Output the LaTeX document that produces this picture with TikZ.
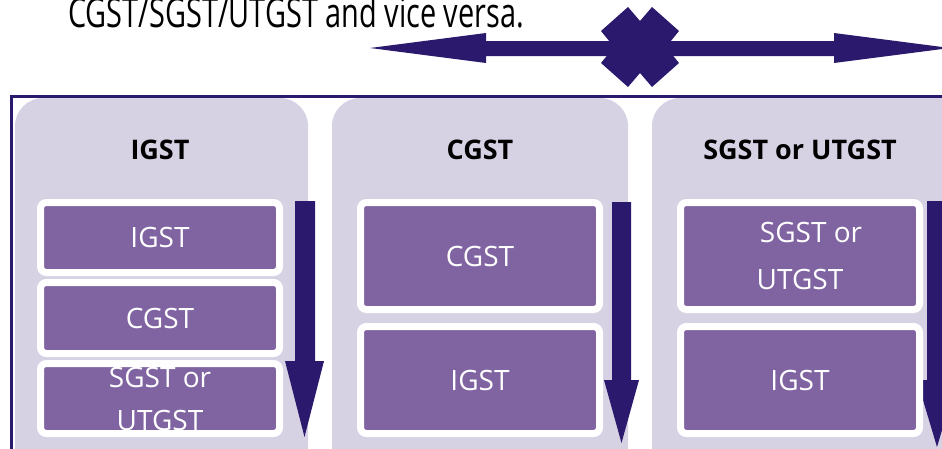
\documentclass[tikz,border=0pt]{standalone}
\usepackage{fontspec}
\setmainfont{Open Sans}
\usepackage{tikz}
\usetikzlibrary{shadows}

\definecolor{gstdark}{RGB}{43,25,110}
\definecolor{gstlight}{RGB}{215,210,227}
\definecolor{gstpurple}{RGB}{128,100,162}

\tikzset{
  colbox/.style={fill=gstlight, rounded corners=28pt},
  taxbox/.style={fill=gstpurple, draw=white, line width=7pt, rounded corners=6pt,
    minimum width=239pt, inner sep=0pt, text=white, align=center,
    font=\fontsize{28}{43}\selectfont,
    drop shadow={shadow xshift=1pt, shadow yshift=-2.5pt, opacity=.35, fill=black!60}},
  colhead/.style={font=\bfseries\fontsize{27}{32}\selectfont, anchor=base, inner sep=0pt}
}

\begin{document}
\begin{tikzpicture}[x=1pt,y=-1pt]
  \useasboundingbox (0,0) rectangle (942,448);
  \clip (0,0) rectangle (942,448);

  \node [anchor=base west, inner sep=0pt, font=\fontsize{41}{46}\selectfont] (note) at (68,27)
    {\scalebox{0.705}[1]{CGST/SGST/UTGST and vice versa.}};

  % double arrow and cross
  \fill [gstdark] (370,48) -- (486,33) -- (486,41) -- (834,41) -- (834,33) -- (950,48)
    -- (834,63) -- (834,56) -- (486,56) -- (486,63) -- cycle;
  \fill [gstdark] (628,7) -- (640,21) -- (652,7) -- (679,31) -- (666,47) -- (679,63)
    -- (652,87) -- (640,73) -- (628,87) -- (601,63) -- (614,47) -- (601,31) -- cycle;

  % frame and columns
  \draw [gstdark, line width=3pt] (11,96) rectangle (990,490);
  \fill [colbox] (15,98) rectangle (308,490);
  \fill [colbox] (332,98) rectangle (628,490);
  \fill [colbox] (652,98) rectangle (975,490);

  \node [colhead] (hIGST) at (160,159) {IGST};
  \node [colhead] (hCGST) at (480,159) {CGST};
  \node [colhead] (hSGST) at (800,159) {SGST or UTGST};

  % order arrows
  \fill [gstdark] (295,201) -- (315,201) -- (315,361) -- (324,361) -- (304.5,437)
    -- (285,361) -- (295,361) -- cycle;
  \fill [gstdark] (612,202) -- (631,202) -- (631,380) -- (639,380) -- (621.5,443)
    -- (604,380) -- (612,380) -- cycle;
  \fill [gstdark] (927,201) -- (947,201) -- (947,380) -- (957,380) -- (937,447)
    -- (917,380) -- (927,380) -- cycle;

  \node [taxbox, minimum height=70pt] (lIGST) at (160,237.5) {IGST};
  \node [taxbox, minimum height=71pt] (lCGST) at (160,318) {CGST};
  \node [taxbox, minimum height=70pt] (lSGST) at (160,398.5) {SGST or\\UTGST};

  \node [taxbox, minimum height=107pt] (mCGST) at (480,256) {CGST};
  \node [taxbox, minimum height=107pt] (mIGST) at (480,380) {IGST};

  \node [taxbox, minimum height=107pt, font=\fontsize{28}{47}\selectfont] (rSGST) at (800,256) {\hspace*{22pt}SGST or\\UTGST};
  \node [taxbox, minimum height=107pt] (rIGST) at (800,380) {IGST};
\end{tikzpicture}
\end{document}
